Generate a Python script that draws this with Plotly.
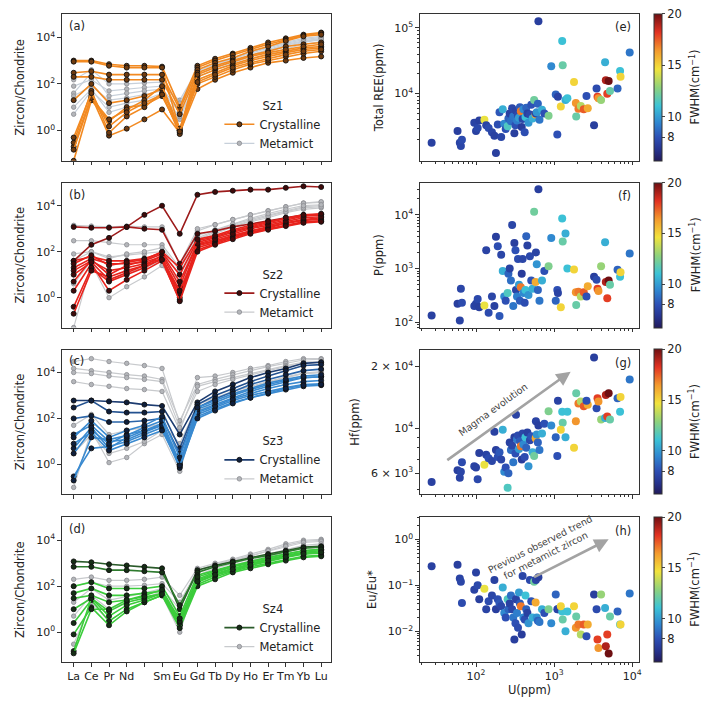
import numpy as np
import plotly.graph_objects as go

# ---------------- data ----------------
ELEMENTS = ["La", "Ce", "Pr", "Nd", "Pm", "Sm", "Eu", "Gd", "Tb", "Dy", "Ho", "Er", "Tm", "Yb", "Lu"]
ELEMENT_TICKS = ["La", "Ce", "Pr", "Nd", "", "Sm", "Eu", "Gd", "Tb", "Dy", "Ho", "Er", "Tm", "Yb", "Lu"]

SZ1_CRYSTALLINE = [
    [1000, 1000, 700, 600, 600, 550, 10, 600, 1200, 2000, 3500, 6000, 9000, 13000, 16000],
    [900, 900, 600, 500, 500, 500, 1, 500, 1000, 1800, 3000, 5000, 8000, 12000, 15000],
    [300, 350, 250, 250, 250, 250, 8, 400, 800, 1300, 2500, 4000, 7000, 11000, 13000],
    [200, 200, 150, 150, 150, 150, 5, 300, 600, 1000, 1700, 2500, 4000, 5000, 6000],
    [20, 100, 15, 20, 30, 60, 1, 200, 400, 700, 1200, 1800, 2500, 3500, 4000],
    [0.2, 30, 0.6, 1.2, 3, 8, 0.8, 60, 150, 300, 500, 800, 1000, 1300, 1500],
    [0.05, 20, 2.5, 10, 12, 30, 1, 100, 200, 400, 700, 1000, 1500, 2000, 2500],
    [0.3, 50, 0.8, 4, 10, 40, 0.7, 150, 300, 600, 1000, 1500, 2200, 3000, 3500],
    [0.15, 25, 3, 8, 20, 80, 1.2, 250, 500, 900, 1500, 2200, 3000, 4000, 5000],
    [0.5, 40, 1.5, 6, 15, 35, 0.9, 120, 250, 500, 800, 1200, 1800, 2500, 3000],
]
SZ1_METAMICT = [
    [5, 50, 10, 15, 20, 40, 3, 200, 400, 800, 1500, 2500, 4000, 6000, 8000],
    [80, 150, 50, 60, 70, 80, 20, 400, 700, 1200, 2000, 3500, 5500, 8000, 10000],
    [40, 300, 30, 40, 50, 60, 8, 300, 600, 1000, 1800, 3000, 5000, 7000, 9000],
    [150, 400, 100, 100, 110, 120, 15, 350, 700, 1300, 2200, 3800, 6000, 9000, 11000],
    [10, 60, 6, 10, 15, 30, 4, 150, 300, 600, 1100, 2000, 3200, 5000, 6500],
    [30, 80, 20, 25, 35, 50, 6, 250, 500, 900, 1600, 2800, 4500, 6500, 8500],
]

SZ2_CRYSTALLINE = [
    [40, 200, 400, 1200, 4000, 10000, 600, 30000, 40000, 45000, 50000, 50000, 60000, 70000, 65000],
    [1200, 1100, 1100, 1200, 1000, 900, 30, 600, 800, 1200, 1600, 2200, 3000, 4000, 4000],
    [20, 50, 30, 30, 35, 60, 1, 200, 300, 500, 800, 1200, 1800, 2500, 3000],
    [2, 30, 2, 6, 15, 40, 0.8, 150, 250, 450, 700, 1000, 1500, 2000, 2200],
    [0.4, 20, 5, 10, 20, 50, 1.5, 180, 280, 500, 800, 1100, 1700, 2300, 2600],
    [0.2, 15, 8, 15, 25, 70, 3, 250, 400, 700, 1100, 1600, 2500, 3500, 4000],
    [40, 60, 40, 40, 50, 90, 10, 300, 450, 800, 1200, 1800, 2800, 3800, 4200],
    [15, 40, 15, 20, 30, 50, 2, 120, 220, 400, 650, 950, 1400, 1900, 2100],
    [5, 45, 10, 25, 40, 80, 5, 220, 350, 600, 1000, 1400, 2100, 3000, 3300],
    [30, 70, 25, 35, 45, 100, 20, 350, 500, 900, 1400, 2000, 3000, 4000, 4500],
    [10, 35, 6, 12, 25, 45, 0.7, 100, 200, 350, 600, 900, 1300, 1800, 2000],
]
SZ2_METAMICT = [
    [300, 300, 250, 200, 200, 200, 20, 800, 1500, 2500, 4000, 6000, 9000, 13000, 14000],
    [1400, 1300, 1200, 1300, 1200, 1200, 30, 1000, 1500, 2500, 4000, 6000, 9000, 13000, 15000],
    [80, 100, 60, 70, 80, 100, 10, 400, 800, 1500, 2500, 4000, 6000, 9000, 10000],
    [0.05, 30, 1, 3, 8, 25, 2, 300, 600, 1200, 2000, 3000, 5000, 7000, 8000],
    [4, 40, 5, 12, 20, 40, 5, 350, 700, 1300, 2200, 3500, 5500, 8000, 9000],
    [40, 100, 50, 80, 100, 150, 15, 500, 900, 1600, 2800, 4500, 7000, 10000, 11000],
]

SZ3_CRYSTALLINE = [
    [600, 600, 550, 500, 400, 350, 20, 500, 1500, 3000, 6000, 10000, 15000, 25000, 28000],
    [300, 600, 200, 180, 180, 200, 5, 400, 1000, 2000, 4000, 7000, 12000, 20000, 22000],
    [100, 130, 70, 70, 80, 100, 3, 300, 700, 1500, 3000, 5000, 8000, 12000, 14000],
    [20, 50, 10, 12, 25, 50, 1, 200, 400, 800, 1500, 2500, 4000, 6000, 6500],
    [5, 40, 5, 15, 30, 60, 0.8, 150, 300, 600, 1000, 1500, 2200, 3000, 3200],
    [0.3, 5, 6, 10, 20, 40, 0.7, 120, 250, 500, 800, 1200, 1800, 2500, 2800],
    [3, 30, 8, 20, 30, 50, 1, 180, 350, 700, 1200, 2000, 3000, 4000, 4500],
    [0.2, 15, 12, 18, 40, 80, 1.2, 250, 500, 1000, 1800, 3000, 4500, 6000, 6500],
    [15, 80, 15, 30, 50, 120, 2, 300, 600, 1200, 2000, 3500, 5000, 7000, 8000],
    [8, 25, 4, 8, 15, 30, 0.9, 100, 220, 450, 800, 1300, 2000, 2800, 3000],
]
SZ3_METAMICT = [
    [30000, 40000, 30000, 25000, 20000, 15000, 60, 6000, 7000, 10000, 15000, 20000, 30000, 40000, 40000],
    [15000, 12000, 10000, 8000, 7000, 5000, 80, 3000, 5000, 8000, 12000, 18000, 25000, 35000, 38000],
    [4000, 3000, 2500, 2000, 1800, 1500, 30, 2500, 4000, 6000, 9000, 14000, 20000, 28000, 30000],
    [10000, 9000, 7000, 6000, 5000, 4000, 40, 1500, 3000, 5000, 8000, 12000, 18000, 25000, 28000],
    [0.1, 30, 1.2, 2, 8, 20, 0.5, 200, 500, 1000, 2000, 3500, 6000, 9000, 10000],
    [50, 150, 20, 30, 40, 60, 8, 400, 800, 1500, 2500, 4000, 6500, 9500, 11000],
    [3, 20, 3, 5, 10, 30, 3, 300, 600, 1200, 2200, 3800, 6000, 9000, 10000],
]

SZ4_CRYSTALLINE = [
    [1200, 1100, 900, 800, 700, 600, 10, 500, 800, 1200, 1800, 2500, 3500, 5000, 5500],
    [700, 700, 500, 500, 450, 400, 15, 400, 700, 1100, 1600, 2200, 3200, 4500, 5000],
    [100, 150, 80, 80, 80, 100, 5, 300, 500, 800, 1200, 1800, 2500, 3500, 4000],
    [50, 80, 40, 40, 50, 60, 3, 200, 400, 700, 1000, 1500, 2200, 3000, 3500],
    [10, 30, 8, 20, 30, 50, 2, 150, 300, 500, 800, 1200, 1800, 2500, 2800],
    [2.5, 25, 3, 10, 20, 40, 2, 120, 250, 450, 700, 1000, 1500, 2000, 2200],
    [0.8, 12, 2, 8, 20, 40, 1.5, 100, 200, 400, 600, 900, 1300, 1800, 2000],
    [0.15, 30, 5, 15, 25, 50, 2.5, 180, 350, 600, 900, 1400, 2000, 2800, 3000],
    [0.12, 10, 10, 25, 40, 70, 3, 250, 450, 750, 1100, 1700, 2500, 3500, 4000],
    [30, 40, 20, 25, 35, 45, 4, 160, 320, 550, 850, 1300, 1900, 2600, 3000],
]
SZ4_METAMICT = [
    [200, 250, 180, 180, 200, 250, 40, 600, 1000, 1500, 2500, 4000, 7000, 10000, 11000],
    [20, 80, 25, 35, 50, 80, 10, 400, 800, 1300, 2000, 3500, 6000, 9000, 10000],
    [0.3, 20, 3, 10, 20, 40, 1, 200, 400, 800, 1300, 2000, 3000, 5000, 5500],
    [100, 150, 100, 100, 110, 130, 20, 500, 900, 1400, 2200, 3500, 5500, 8000, 9000],
    [5, 40, 10, 20, 30, 60, 5, 300, 600, 1000, 1600, 2500, 4000, 6000, 7000],
]

U_PPM = [27, 58, 62, 64, 66, 95, 100, 105, 110, 128, 135, 145, 160, 172, 180, 190, 200, 210, 220, 230,
         240, 254, 260, 270, 280, 290, 300, 310, 320, 325, 335, 345, 355, 365, 375, 385, 395, 405, 420, 430,
         440, 455, 470, 490, 510, 530, 555, 580, 585, 600, 630, 620, 650, 700, 750, 850, 920, 1050, 1100, 1120,
         1270, 1290, 1220, 1400, 1480, 1800, 1900, 1920, 2050, 2200, 2400, 2700, 2600, 3250, 3500, 3600, 3700, 4000, 4500, 4600,
         4800, 5000, 5200, 6500, 7000, 7100, 9300]
FWHM = [7.4, 7.3, 7.5, 7.6, 7.8, 7.5, 7.4, 7.7, 7.3, 14.5, 7.5, 7.8, 7.6, 7.4, 7.3, 7.9, 8.2, 7.6, 10.5, 9.5,
        8.0, 11.5, 8.5, 7.4, 8.8, 7.6, 9.0, 7.3, 8.0, 7.5, 9.2, 7.8, 10.0, 8.3, 17.0, 7.2, 7.6, 9.5, 7.9, 11.0,
        8.5, 7.4, 9.8, 7.7, 8.1, 10.5, 12.2, 16.0, 7.5, 9.8, 7.3, 8.5, 9.0, 10.5, 8.0, 12.5, 9.5, 8.5, 8.0, 7.5,
        11.0, 12.0, 15.0, 10.5, 11.0, 15.0, 16.5, 12.0, 17.0, 13.5, 17.5, 16.0, 8.0, 7.3, 7.8, 18.0, 16.5, 13.0, 10.5, 19.0,
        18.0, 20.0, 12.0, 8.5, 11.0, 15.0, 9.0]
TOTAL_REE = [1800, 2700, 1800, 1600, 2000, 3600, 2700, 3000, 3900, 4000, 3300, 3000, 2600, 2300, 1250, 3400, 5200, 2200, 5800, 3500,
             2900, 3200, 4200, 5000, 3800, 6000, 4500, 2500, 3300, 5500, 3900, 4700, 4300, 6200, 5400, 3100, 4100, 5800, 2600, 4400,
             6100, 5000, 3600, 4800, 6800, 4200, 8000, 4800, 5000, 5200, 126000, 7000, 4000, 5700, 5000, 4600, 26000, 9700, 2400, 9000,
             63000, 27000, 6400, 8000, 8500, 15000, 7200, 4500, 5900, 6500, 5800, 6000, 9200, 3300, 12000, 9000, 8500, 8000, 30000, 16000,
             10000, 15500, 11000, 12000, 22000, 18000, 42000]
P_PPM = [133, 220, 108, 420, 230, 200, 220, 270, 190, 205, 2200, 150, 300, 200, 3900, 2600, 130, 1800, 900, 300,
         250, 350, 800, 1000, 600, 6500, 200, 3000, 2200, 400, 300, 1500, 500, 250, 450, 800, 1500, 350, 230, 400,
         4000, 2700, 320, 1700, 600, 420, 11500, 560, 2000, 1200, 30000, 400, 250, 600, 900, 1100, 3700, 250, 400, 350,
         8600, 3200, 190, 4500, 1000, 960, 360, 210, 370, 300, 360, 470, 300, 700, 620, 420, 380, 1100, 3100, 560,
         280, 600, 500, 950, 700, 850, 1900]
HF_PPM = [5430, 6200, 5700, 6100, 6800, 6500, 6400, 5600, 7550, 6600, 7400, 7100, 6900, 9600, 7800, 7200, 7600, 7000, 9800, 6100,
          6400, 5100, 6000, 8500, 7800, 8200, 6800, 9000, 7500, 11600, 8800, 9200, 7900, 8600, 8150, 7000, 9400, 8300, 7200, 9000,
          8000, 9500, 6500, 8700, 9100, 7600, 7300, 8900, 10800, 9300, 10300, 8500, 7800, 9400, 10500, 12100, 10300, 9000, 7300, 13600,
          12000, 10600, 9800, 9000, 12000, 8000, 10800, 14800, 13200, 13500, 12800, 13000, 13600, 22200, 12500, 14000, 13500, 11000, 11200, 14500,
          11400, 14800, 11000, 14000, 12000, 14200, 17300]
EU_ANOMALY = [0.26, 0.28, 0.14, 0.12, 0.041, 0.08, 0.19, 0.10, 0.05, 0.084, 0.03, 0.045, 0.06, 0.13, 0.03, 0.05, 0.04, 0.035, 0.09, 0.025,
              0.02, 0.05, 0.03, 0.04, 0.06, 0.03, 0.02, 0.0066, 0.015, 0.05, 0.025, 0.012, 0.07, 0.04, 0.035, 0.0085, 0.16, 0.02, 0.018, 0.06,
              0.03, 0.025, 0.015, 0.13, 0.045, 0.02, 0.12, 0.042, 0.13, 0.02, 0.15, 0.017, 0.016, 0.03, 0.025, 0.03, 0.015, 0.063, 0.030, 0.03,
              0.027, 0.018, 0.035, 0.010, 0.027, 0.035, 0.012, 0.021, 0.014, 0.0085, 0.014, 0.014, 0.0078, 0.063, 0.03, 0.0066, 0.0043, 0.063, 0.032, 0.0047,
              0.0085, 0.0033, 0.021, 0.027, 0.014, 0.014, 0.066]

# ---------------- styling / layout ----------------
W, H = 706, 707
FONT = "DejaVu Sans"
ROWS = [(14, 161), (183, 328), (350, 495), (518, 663)]
LEFT_X = (62, 332)
RIGHT_X = (421, 641)
CBAR_X = 653
CBAR_TITLE_X = 697


def xdom(a, b):
    return [a / W, b / W]


def ydom(top, bot):
    return [1 - bot / H, 1 - top / H]


GROUPS = [
    ("Sz1", SZ1_CRYSTALLINE, SZ1_METAMICT, ["#f28a22"] * 12, "#6e3b10", "#c7d0da"),
    ("Sz2", SZ2_CRYSTALLINE, SZ2_METAMICT, ["#9c1b1b", "#a81c1c"] + ["#e8231d"] * 10, "#3f0a0a", "#c8cacd"),
    ("Sz3", SZ3_CRYSTALLINE, SZ3_METAMICT, ["#1d3c70", "#23518f", "#2a64a8"] + ["#3a8ad0"] * 9, "#0f1f3c", "#c8cacd"),
    ("Sz4", SZ4_CRYSTALLINE, SZ4_METAMICT, ["#2a5a2a", "#2e7a2e"] + ["#3ccc3c"] * 10, "#152e15", "#c8cacd"),
]

JETLIKE = [
    [0.0, "#221a5a"], [0.08, "#26348f"], [0.16, "#2d4fb4"], [0.26, "#2f86d0"],
    [0.375, "#3cc3d6"], [0.5, "#8fd27c"], [0.625, "#f2e33c"], [0.75, "#f39a2e"],
    [0.875, "#e23222"], [1.0, "#6e0f12"],
]
CMIN, CMAX = 5.7, 20

fig = go.Figure()
layout = dict(
    width=W, height=H, margin=dict(l=0, r=0, t=0, b=0),
    paper_bgcolor="white", plot_bgcolor="white",
    font=dict(family=FONT, size=11, color="#222"),
    showlegend=True,
    annotations=[],
)

axis_common = dict(showline=True, linecolor="#333", linewidth=1, mirror=True, ticks="outside",
                   ticklen=3.5, tickwidth=1, tickcolor="#333", showgrid=False, zeroline=False,
                   tickfont=dict(family=FONT, size=11, color="#222"))

legend_names = ["legend", "legend2", "legend3", "legend4"]

for i, (name, crys, meta, colors, mfill, mline) in enumerate(GROUPS):
    k = i + 1
    xa = "x" if k == 1 else f"x{k}"
    ya = "y" if k == 1 else f"y{k}"
    lg = legend_names[i]
    for j, vals in enumerate(meta):
        fig.add_trace(go.Scatter(
            x=ELEMENTS, y=vals, xaxis=xa, yaxis=ya, mode="lines+markers",
            line=dict(color=mline, width=1.2),
            marker=dict(size=4.5, color="#b4b6ba", line=dict(color="#8a8c90", width=0.8)),
            name="Metamict", showlegend=(j == 0), legend=lg, legendrank=2, hoverinfo="skip"))
    for j, vals in enumerate(crys):
        fig.add_trace(go.Scatter(
            x=ELEMENTS, y=vals, xaxis=xa, yaxis=ya, mode="lines+markers",
            line=dict(color=colors[j % len(colors)], width=1.6),
            marker=dict(size=5, color=mfill, line=dict(color="#111", width=0.9)),
            name="Crystalline", showlegend=(j == 0), legend=lg, legendrank=1, hoverinfo="skip"))

    top, bot = ROWS[i]
    xkey = "xaxis" if k == 1 else f"xaxis{k}"
    ykey = "yaxis" if k == 1 else f"yaxis{k}"
    layout[xkey] = dict(axis_common, domain=xdom(*LEFT_X), anchor=ya, type="category",
                        range=[-0.67, 14.56], tickmode="array", tickvals=ELEMENTS,
                        ticktext=ELEMENT_TICKS, showticklabels=(k == 4), tickangle=0)
    layout[ykey] = dict(axis_common, domain=ydom(top, bot), anchor=xa, type="log",
                        range=[-1.3, 5.0], tickmode="array", tickvals=[1, 100, 10000],
                        ticktext=["10<sup>0</sup>", "10<sup>2</sup>", "10<sup>4</sup>"],
                        title=dict(text="Zircon/Chondrite", font=dict(size=11.5), standoff=9))
    layout[lg] = dict(
        x=220 / W, y=1 - (top + 81) / H, xanchor="left", yanchor="top",
        bgcolor="rgba(255,255,255,0)", borderwidth=0,
        title=dict(text=name, side="top center", font=dict(size=11.5)),
        font=dict(size=11.5, color="#222"), tracegroupgap=0, itemwidth=30)
    layout["annotations"].append(dict(
        text=f"({'abcd'[i]})", xref=f"{xa} domain", yref=f"{ya} domain", x=0.02, y=0.98,
        xanchor="left", yanchor="top", showarrow=False, font=dict(size=11.5, color="#222")))

# ---------------- scatter panels ----------------
Y_SETS = [
    ("Total REE(ppm)", TOTAL_REE, [2.98, 5.21], [1e4, 1e5], ["10<sup>4</sup>", "10<sup>5</sup>"], "e"),
    ("P(ppm)", P_PPM, [1.9, 4.6], [1e2, 1e3, 1e4], ["10<sup>2</sup>", "10<sup>3</sup>", "10<sup>4</sup>"], "f"),
    ("Hf(ppm)", HF_PPM, [3.675, 4.385], [6e3, 1e4, 2e4], ["6 × 10<sup>3</sup>", "10<sup>4</sup>", "2 × 10<sup>4</sup>"], "g"),
    ("Eu/Eu*", EU_ANOMALY, [-2.67, 0.48], [1e-2, 1e-1, 1], ["10<sup>−2</sup>", "10<sup>−1</sup>", "10<sup>0</sup>"], "h"),
]


def minor_vals(lo, hi):
    out = []
    for e in range(lo, hi + 1):
        for m in range(2, 10):
            out.append(m * 10.0 ** e)
    return out


for i, (title, yvals, yr, tv, tt, lab) in enumerate(Y_SETS):
    k = i + 5
    xa, ya = f"x{k}", f"y{k}"
    top, bot = ROWS[i]
    fig.add_trace(go.Scatter(
        x=U_PPM, y=yvals, xaxis=xa, yaxis=ya, mode="markers", showlegend=False,
        marker=dict(size=8, color=FWHM, colorscale=JETLIKE, cmin=CMIN, cmax=CMAX,
                    line=dict(width=0), showscale=True,
                    colorbar=dict(x=CBAR_X / W, xanchor="left", xpad=3, ypad=0,
                                  y=1 - (top + bot) / 2 / H,
                                  yanchor="middle", len=(bot - top) / H, lenmode="fraction",
                                  thickness=8, thicknessmode="pixels", outlinewidth=1,
                                  outlinecolor="#333", ticks="outside", ticklen=3,
                                  tickvals=[8, 10, 15, 20], tickfont=dict(size=11.5, color="#222"))),
        hoverinfo="skip"))
    layout[f"xaxis{k}"] = dict(axis_common, domain=xdom(*RIGHT_X), anchor=ya, type="log",
                               range=[1.28, 4.09], tickmode="array", tickvals=[1e2, 1e3, 1e4],
                               ticktext=["10<sup>2</sup>", "10<sup>3</sup>", "10<sup>4</sup>"],
                               showticklabels=(k == 8),
                               minor=dict(tickvals=minor_vals(1, 3), ticks="outside", ticklen=2,
                                          tickcolor="#333", showgrid=False))
    if k == 8:
        layout[f"xaxis{k}"]["title"] = dict(text="U(ppm)", font=dict(size=11.5), standoff=2)
    layout[f"yaxis{k}"] = dict(axis_common, domain=ydom(top, bot), anchor=xa, type="log",
                               range=yr, tickmode="array", tickvals=tv, ticktext=tt,
                               minor=dict(tickvals=minor_vals(-3, 5), ticks="outside", ticklen=2,
                                          tickcolor="#333", showgrid=False),
                               title=dict(text=title, font=dict(size=11.5), standoff=8))
    layout["annotations"].append(dict(
        text=f"({lab})", xref=f"{xa} domain", yref=f"{ya} domain", x=0.97, y=0.97,
        xanchor="right", yanchor="top", showarrow=False, font=dict(size=11.5, color="#222")))
    # colorbar label, rotated to read bottom-to-top
    layout["annotations"].append(dict(
        text="FWHM(cm<sup>−1</sup>)", xref="paper", yref="paper",
        x=CBAR_TITLE_X / W, y=1 - (top + bot) / 2 / H, xanchor="center", yanchor="middle",
        textangle=-90, showarrow=False, font=dict(size=11.5, color="#222")))

# arrows (annotation coordinates on log axes are given as log10)
layout["annotations"] += [
    dict(x=np.log10(1630), y=np.log10(18900), ax=np.log10(41), ay=np.log10(6880),
         xref="x7", yref="y7", axref="x7", ayref="y7", text="", showarrow=True,
         arrowhead=2, arrowsize=1.1, arrowwidth=2.6, arrowcolor="#a3a3a3"),
    dict(x=np.log10(165), y=np.log10(12300), xref="x7", yref="y7", text="Magma evolution",
         showarrow=False, textangle=-36, font=dict(size=9.5, color="#444")),
    dict(x=np.log10(5000), y=np.log10(1.0), ax=np.log10(530), ay=np.log10(0.145),
         xref="x8", yref="y8", axref="x8", ayref="y8", text="", showarrow=True,
         arrowhead=2, arrowsize=1.1, arrowwidth=2.6, arrowcolor="#a3a3a3"),
    dict(x=np.log10(720), y=np.log10(0.6), xref="x8", yref="y8",
         text="Previous observed trend<br>for metamict zircon",
         showarrow=False, textangle=-27, font=dict(size=9.5, color="#444")),
]

fig.update_layout(**layout)
# remove the default page margin so the 706x707 figure fills the window exactly
fig.write_html("out.html", config={"displayModeBar": False},
               post_script="document.body.style.margin='0';")
